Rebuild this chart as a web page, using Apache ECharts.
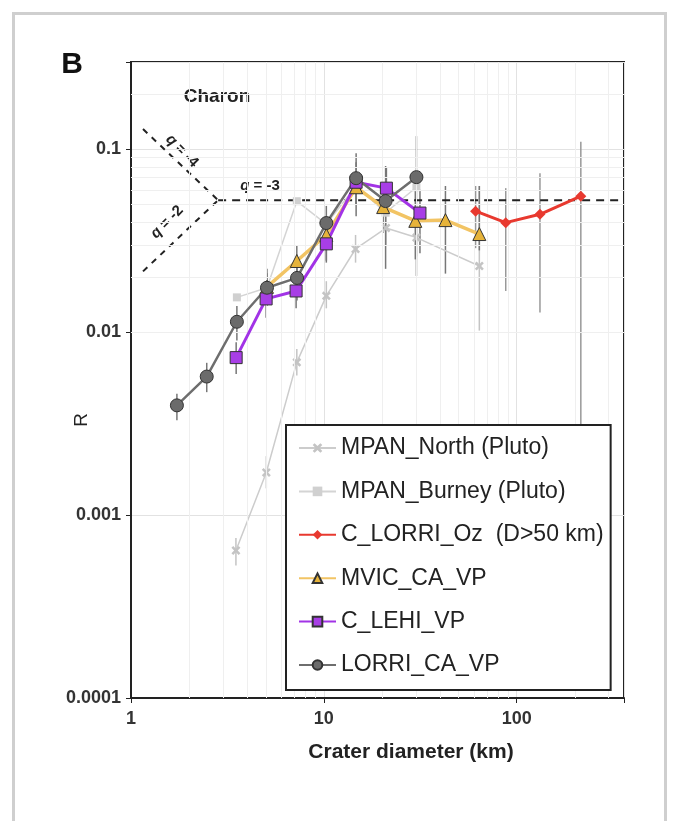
<!DOCTYPE html>
<html>
<head>
<meta charset="utf-8">
<script src="https://cdn.jsdelivr.net/npm/echarts@6/dist/echarts.min.js"></script>
<style>
html,body{margin:0;padding:0;background:#fff;}
#chart{width:677px;height:821px;}
</style>
</head>
<body>
<div id="chart"></div>
<script>
// ---- axis ranges / tick labels ----
const xRange = [1, 360];
const yRange = [0.0001, 0.3];
const xTickLabels = {0: '1', 1: '10', 2: '100'};
const yTickLabels = {'-4': '0.0001', '-3': '0.001', '-2': '0.01', '-1': '0.1'};

// ---- series data (crater diameter km, R) ----
const northD = [3.5, 5.03, 7.24, 10.3, 14.6, 21.0, 30.2, 64];
const northR = [0.00064, 0.00171, 0.00684, 0.0158, 0.0285, 0.0371, 0.0329, 0.0230];
const northLo = [0.00053, 0.0014, 0.0058, 0.0135, 0.024, 0.030, 0.026, 0.0102];
const northHi = [0.00075, 0.0021, 0.0081, 0.019, 0.034, 0.045, 0.042, 0.063];

const burneyD = [3.54, 5.07, 7.24, 10.3, 14.7, 20.9, 30.2];
const burneyR = [0.0155, 0.0175, 0.052, 0.039, 0.063, 0.045, 0.062];

const ozD = [61.2, 87.7, 132, 215];
const ozR = [0.0459, 0.0397, 0.0441, 0.0554];
const ozLo = [0.0288, 0.0168, 0.0128, 0.00011];
const ozHi = [0.063, 0.0613, 0.074, 0.11];

const mvicD = [5.07, 7.24, 10.3, 14.7, 20.3, 29.8, 42.7, 64];
const mvicR = [0.0177, 0.0245, 0.034, 0.062, 0.0483, 0.0406, 0.041, 0.0344];
const mvicLo = [0.0145, 0.020, 0.028, 0.050, 0.035, 0.025, 0.0209, 0.028];
const mvicHi = [0.021, 0.030, 0.042, 0.075, 0.065, 0.060, 0.063, 0.063];

const lehiD = [3.51, 5.02, 7.18, 10.3, 14.7, 21.1, 31.5];
const lehiR = [0.00726, 0.0152, 0.0168, 0.0304, 0.066, 0.0613, 0.0448];
const lehiLo = [0.0059, 0.012, 0.0135, 0.024, 0.050, 0.045, 0.027];
const lehiHi = [0.0088, 0.019, 0.021, 0.038, 0.085, 0.080, 0.060];

const lorriD = [1.73, 2.47, 3.54, 5.07, 7.26, 10.3, 14.7, 20.9, 30.2];
const lorriR = [0.00398, 0.00572, 0.0114, 0.0175, 0.0198, 0.0395, 0.0695, 0.0521, 0.0704];
const lorriLo = [0.0033, 0.0047, 0.0090, 0.0139, 0.0149, 0.0246, 0.043, 0.0222, 0.0203];
const lorriHi = [0.0046, 0.0068, 0.0139, 0.0222, 0.024, 0.049, 0.095, 0.081, 0.118];

// ---- reference slope lines (q) ----
const q3D = [2.83, 360];
const q3R = [0.0527, 0.0527];
const q4D = [1.154, 2.83];
const q4R = [0.129, 0.0527];
const q2D = [1.154, 2.83];
const q2R = [0.0215, 0.0527];

// ---- minor grid values ----
const xMinor = [2,3,4,5,6,7,8,9,20,30,40,50,60,70,80,90,200,300];
const yMinor = [];
[-4,-3,-2,-1].forEach(e => { for (let k = 2; k <= 9; k++) { const v = k * Math.pow(10, e); if (v < 0.3) yMinor.push(+v.toPrecision(3)); } });

const names = ['MPAN_North (Pluto)', 'MPAN_Burney (Pluto)', 'C_LORRI_Oz  (D>50 km)', 'MVIC_CA_VP', 'C_LEHI_VP', 'LORRI_CA_VP'];

function pairs(D, R) { return D.map((d, i) => [d, R[i]]); }
function triples(D, lo, hi) { return D.map((d, i) => [d, lo[i], hi[i]]); }

function errSeries(D, lo, hi, color, width) {
  return {
    type: 'custom', z: 1, silent: true,
    data: triples(D, lo, hi),
    encode: {x: 0, y: [1, 2]},
    renderItem: function (params, api) {
      const p1 = api.coord([api.value(0), api.value(1)]);
      const p2 = api.coord([api.value(0), api.value(2)]);
      return {type: 'line', shape: {x1: p1[0], y1: p1[1], x2: p2[0], y2: p2[1]},
        style: {stroke: color, lineWidth: width}};
    }
  };
}

const xPath = 'path://M2,0 L5,3 L8,0 L10,2 L7,5 L10,8 L8,10 L5,7 L2,10 L0,8 L3,5 L0,2 Z';
const FONT = 'Liberation Sans, Arial, sans-serif';

const chart = echarts.init(document.getElementById('chart'));
const option = {
  animation: false,
  backgroundColor: '#fff',
  grid: {left: 131, right: 53, top: 62, bottom: 123, show: true, borderColor: '#222', borderWidth: 2, backgroundColor: 'transparent'},
  xAxis: {
    type: 'log', logBase: 10, min: xRange[0], max: xRange[1],
    axisLine: {show: true, lineStyle: {color: '#222', width: 2}},
    axisTick: {show: true, length: 5, lineStyle: {color: '#222'}},
    splitLine: {show: true, lineStyle: {color: '#e2e2e2', width: 1}},
    axisLabel: {
      fontSize: 18, fontWeight: 'bold', color: '#333', fontFamily: FONT, margin: 12,
      formatter: function (v) { const l = Math.log10(v); const r = Math.round(l); return Math.abs(l - r) < 1e-6 && xTickLabels[r] !== undefined ? xTickLabels[r] : ''; }
    }
  },
  yAxis: {
    type: 'log', logBase: 10, min: yRange[0], max: yRange[1],
    axisLine: {show: true, lineStyle: {color: '#222', width: 2}},
    axisTick: {show: true, length: 5, lineStyle: {color: '#222'}},
    splitLine: {show: true, lineStyle: {color: '#e2e2e2', width: 1}},
    axisLabel: {
      fontSize: 18, fontWeight: 'bold', color: '#333', fontFamily: FONT, margin: 10,
      formatter: function (v) { const l = Math.log10(v); const r = Math.round(l); return Math.abs(l - r) < 1e-6 && yTickLabels[r] !== undefined ? yTickLabels[r] : ''; }
    }
  },
  legend: {
    orient: 'vertical', left: 286, top: 425, z: 30, zlevel: 0,
    padding: [11.5, 7, 13.5, 12], itemGap: 20.4, itemWidth: 37, itemHeight: 12,
    backgroundColor: '#fff', borderColor: '#222', borderWidth: 2, borderRadius: 0,
    textStyle: {fontSize: 23, color: '#222', fontFamily: FONT, lineHeight: 23},
    data: names, selectedMode: false
  },
  series: [
    {
      type: 'line', z: 0, data: [], silent: true,
      markLine: {
        silent: true, symbol: 'none', animation: false, label: {show: false},
        lineStyle: {color: '#efefef', width: 1, type: 'solid'},
        data: xMinor.map(v => ({xAxis: v})).concat(yMinor.map(v => ({yAxis: v})))
      }
    },
    errSeries(northD, northLo, northHi, '#c4c4c4', 1.5),
    errSeries(ozD, ozLo, ozHi, '#999', 1.5),
    errSeries(mvicD, mvicLo, mvicHi, '#777', 1.5),
    errSeries(lehiD, lehiLo, lehiHi, '#777', 1.5),
    errSeries(lorriD, lorriLo, lorriHi, '#777', 1.5),
    {type: 'line', name: 'q3', data: pairs(q3D, q3R), symbol: 'none', silent: true, z: 3,
     lineStyle: {color: '#222', width: 2, type: [8, 6]}},
    {type: 'line', name: 'q4', data: pairs(q4D, q4R), symbol: 'none', silent: true, z: 3,
     lineStyle: {color: '#222', width: 2, type: [6, 6]}},
    {type: 'line', name: 'q2', data: pairs(q2D, q2R), symbol: 'none', silent: true, z: 3,
     lineStyle: {color: '#222', width: 2, type: [6, 6]}},
    {type: 'line', name: names[0], data: pairs(northD, northR), symbol: xPath, symbolSize: 9, z: 4,
     lineStyle: {color: '#cccccc', width: 1.5}, itemStyle: {color: '#c4c4c4'}},
    {type: 'line', name: names[1], data: pairs(burneyD, burneyR), symbol: 'rect', symbolSize: 8, z: 4,
     lineStyle: {color: '#d4d4d4', width: 1.5}, itemStyle: {color: '#d0d0d0'}},
    {type: 'line', name: names[2], data: pairs(ozD, ozR), symbol: 'diamond', symbolSize: 11, z: 5,
     lineStyle: {color: '#e8392f', width: 3}, itemStyle: {color: '#e8392f'}},
    {type: 'line', name: names[3], data: pairs(mvicD, mvicR), symbol: 'triangle', symbolSize: 13, z: 5,
     lineStyle: {color: '#f2c464', width: 3.5}, itemStyle: {color: '#e6b33a', borderColor: '#333', borderWidth: 1}},
    {type: 'line', name: names[4], data: pairs(lehiD, lehiR), symbol: 'rect', symbolSize: 12, z: 5,
     lineStyle: {color: '#a233e6', width: 3}, itemStyle: {color: '#a83ee6', borderColor: '#333', borderWidth: 1}},
    {type: 'line', name: names[5], data: pairs(lorriD, lorriR), symbol: 'circle', symbolSize: 13, z: 5,
     lineStyle: {color: '#6e6e6e', width: 2.5}, itemStyle: {color: '#6b6b6b', borderColor: '#333', borderWidth: 1}}
  ],
  graphic: {
    z: 40,
    elements: [
      {type: 'rect', left: 11, top: 11, shape: {width: 652, height: 840}, style: {fill: 'none', stroke: '#cfcfcf', lineWidth: 3}, silent: true},
      {type: 'text', x: 72, y: 65, style: {text: 'B', font: 'bold 30px ' + FONT, fill: '#111', align: 'center', verticalAlign: 'middle'}},
      {type: 'text', x: 217, y: 97, style: {text: 'Charon', font: 'bold 19px ' + FONT, fill: '#222', align: 'center', verticalAlign: 'middle'}},
      {type: 'text', x: 260, y: 186, style: {text: '{q|q} = -3', font: 'bold 15px ' + FONT, fill: '#222', align: 'center', verticalAlign: 'middle',
        rich: {q: {font: 'italic bold 15px ' + FONT, fill: '#222'}}}},
      {type: 'text', x: 182, y: 151, rotation: -0.8, style: {text: '{q|q} = -4', font: 'bold 15px ' + FONT, fill: '#222', align: 'center', verticalAlign: 'middle',
        rich: {q: {font: 'italic bold 15px ' + FONT, fill: '#222'}}}},
      {type: 'text', x: 167, y: 222, rotation: 0.8, style: {text: '{q|q} = -2', font: 'bold 15px ' + FONT, fill: '#222', align: 'center', verticalAlign: 'middle',
        rich: {q: {font: 'italic bold 15px ' + FONT, fill: '#222'}}}},
      {type: 'text', x: 82, y: 420, rotation: Math.PI / 2, style: {text: 'R', font: '19px ' + FONT, fill: '#222', align: 'center', verticalAlign: 'middle'}},
      {type: 'text', x: 411, y: 752, style: {text: 'Crater diameter (km)', font: 'bold 21px ' + FONT, fill: '#222', align: 'center', verticalAlign: 'middle'}}
    ]
  }
};
chart.setOption(option);
</script>
</body>
</html>
